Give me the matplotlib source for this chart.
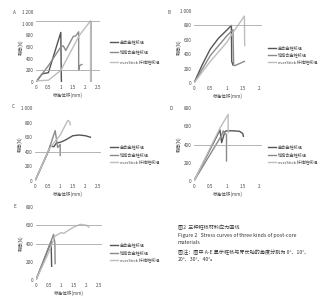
import numpy as np
import matplotlib
matplotlib.use("Agg")
import matplotlib.pyplot as plt

plt.rcParams['font.family'] = ['Noto Sans CJK SC', 'DejaVu Sans']

W, H = 321, 300

labels = ["金合金桩核组", "钴铬合金桩核组", "everStick 纤维桩核组"]
colors = ["#555555", "#8a8a8a", "#bdbdbd"]

# panel A (0 deg)
a_x = [[0, 0.25, 0.5, 1.0, 1.02, 1.03],
       [0, 0.5, 1.0, 1.1, 1.2, 1.5, 1.6, 1.72, 1.72, 1.75, 1.85],
       [0, 0.5, 1.0, 1.5, 1.75, 2.2, 2.2]]
a_y = [[0, 140, 160, 850, 80, -40],
       [0, 280, 600, 620, 540, 780, 790, 860, 200, 280, 300],
       [20, 30, 200, 600, 800, 1050, 0]]
# panel B (10 deg)
b_x = [[0, 0.25, 0.5, 0.75, 1.0, 1.15, 1.16, 1.2],
       [0, 0.5, 1.0, 1.2, 1.22, 1.25, 1.55],
       [0, 0.5, 1.0, 1.2, 1.55, 1.56]]
b_y = [[0, 250, 470, 620, 730, 800, 300, 250],
       [0, 380, 650, 740, 250, 240, 300],
       [0, 300, 560, 700, 930, 520]]
# panel C (20 deg)
c_x = [[0, 0.55, 0.6, 0.75, 0.85, 1.0, 1.2, 1.5, 1.75, 2.0, 2.2],
       [0, 0.55, 0.8, 0.9, 1.0, 1.0],
       [0, 0.55, 0.7, 1.0, 1.3, 1.38, 1.4]]
c_y = [[0, 420, 480, 470, 520, 530, 560, 620, 630, 620, 600],
       [0, 430, 690, 460, 500, 350],
       [0, 430, 500, 630, 830, 810, 770]]
# panel D (30 deg)
d_x = [[0, 0.8, 0.85, 0.95, 1.0, 1.2, 1.4, 1.5, 1.52],
       [0, 0.85, 0.9, 0.95, 1.0, 1.0],
       [0, 0.8, 1.05, 1.05]]
d_y = [[0, 560, 420, 540, 550, 550, 545, 520, 490],
       [0, 500, 550, 520, 510, 220],
       [0, 580, 730, 530]]
# panel E (40 deg)
e_x = [[0, 0.6, 0.62],
       [0, 0.7, 0.75, 0.76],
       [0, 0.5, 0.75, 1.0, 1.1, 1.2, 1.5, 1.75, 2.0, 2.1]]
e_y = [[0, 420, 150],
       [0, 500, 400, 180],
       [0, 300, 480, 520, 510, 530, 580, 610, 600, 580]]

panels = [
    # letter, xs, ys, ymax, ystep, xmax, xticks, hlines, vlines
    ("A", a_x, a_y, 1200, 200, 2.5, [0, 0.5, 1.0, 1.5, 2.0, 2.5], [1040, 200], [2.2]),
    ("B", b_x, b_y, 1000, 200, 2.0, [0, 0.5, 1.0, 1.5, 2.0], [800], []),
    ("C", c_x, c_y, 1000, 200, 2.5, [0, 0.5, 1.0, 1.5, 2.0, 2.5], [400], []),
    ("D", d_x, d_y, 800, 200, 2.0, [0, 0.5, 1.0, 1.5, 2.0], [400], []),
    ("E", e_x, e_y, 800, 200, 2.5, [0, 0.5, 1.0, 1.5, 2.0, 2.5], [600, 400], []),
]

# pixel boxes: x0 (value 0), x1 (value xmax), y_top (ymax), y_bot (0)
boxes = [(36, 98, 12, 82), (194, 259, 11, 83), (35, 98, 108, 181),
         (194, 259, 108, 181), (36, 99, 207, 280)]
leg_pos = [(110, 42, 10), (268, 48, 7), (110, 147, 7.5), (268, 147, 7.5), (110, 245, 7.5)]
letter_pos = [(13, 12), (168, 12), (12, 107), (170, 108), (13, 207)]

fig = plt.figure(figsize=(W / 100, H / 100), dpi=100)
fs = 3.3

for (letter, xs, ys, ymax, ystep, xmax, xt, hl, vl), (x0, x1, yt, yb), (lx, ly, ld), (tx, ty) in zip(
        panels, boxes, leg_pos, letter_pos):
    ext = xmax * 1.04
    w = (x1 - x0) * ext / xmax
    ax = fig.add_axes([x0 / W, 1 - yb / H, w / W, (yb - yt) / H])
    for xx, yy, c in zip(xs, ys, colors):
        ax.plot(xx, yy, color=c, lw=1.0)
    for h in hl:
        ax.axhline(h, color="#a8a8a8", lw=0.6)
    for v in vl:
        ax.axvline(v, ymax=1050 / ymax, color="#a8a8a8", lw=0.6)
    ax.set_xlim(0, ext)
    ax.set_ylim(0, ymax)
    yticks = np.arange(0, ymax + 1, ystep)
    ax.set_yticks(yticks)
    ax.set_yticklabels([f"{int(t):,}".replace(",", " ") for t in yticks])
    ax.set_xticks(xt)
    ax.set_xticklabels([f"{t:g}" for t in xt])
    ax.tick_params(length=0, labelsize=fs, pad=2, colors="#444444")
    for s in ax.spines.values():
        s.set_visible(False)
    ax.set_ylabel("载荷(N)", fontsize=fs, color="#444444")
    ax.yaxis.set_label_coords(-12 / w, 0.5)
    ax.set_xlabel("标准位移(mm)", fontsize=fs, labelpad=2, color="#444444")
    fig.text(tx / W, 1 - ty / H, letter, fontsize=fs, color="#444444", va="center")
    for i, (lab, c) in enumerate(zip(labels, colors)):
        yy = 1 - (ly + i * ld) / H
        fig.add_artist(plt.Line2D([lx / W, (lx + 8) / W], [yy, yy], color=c, lw=1.0))
        fig.text((lx + 10) / W, yy, lab, fontsize=3.0, va="center", color="#444444")

cap = ["图2  三种桩核材料应力曲线",
       "Figure 2   Stress curves of three kinds of post-core",
       "materials",
       "图注：图中 A-E 显示桩核与牙长轴的角度分别为 0°、10°、",
       "20°、30°、40°。"]
cap_y = [228, 236, 243, 252, 259]
for t, yy in zip(cap, cap_y):
    fig.text(178 / W, 1 - yy / H, t, fontsize=3.7, va="center", color="#333333")

fig.savefig("out.png", dpi=100)
